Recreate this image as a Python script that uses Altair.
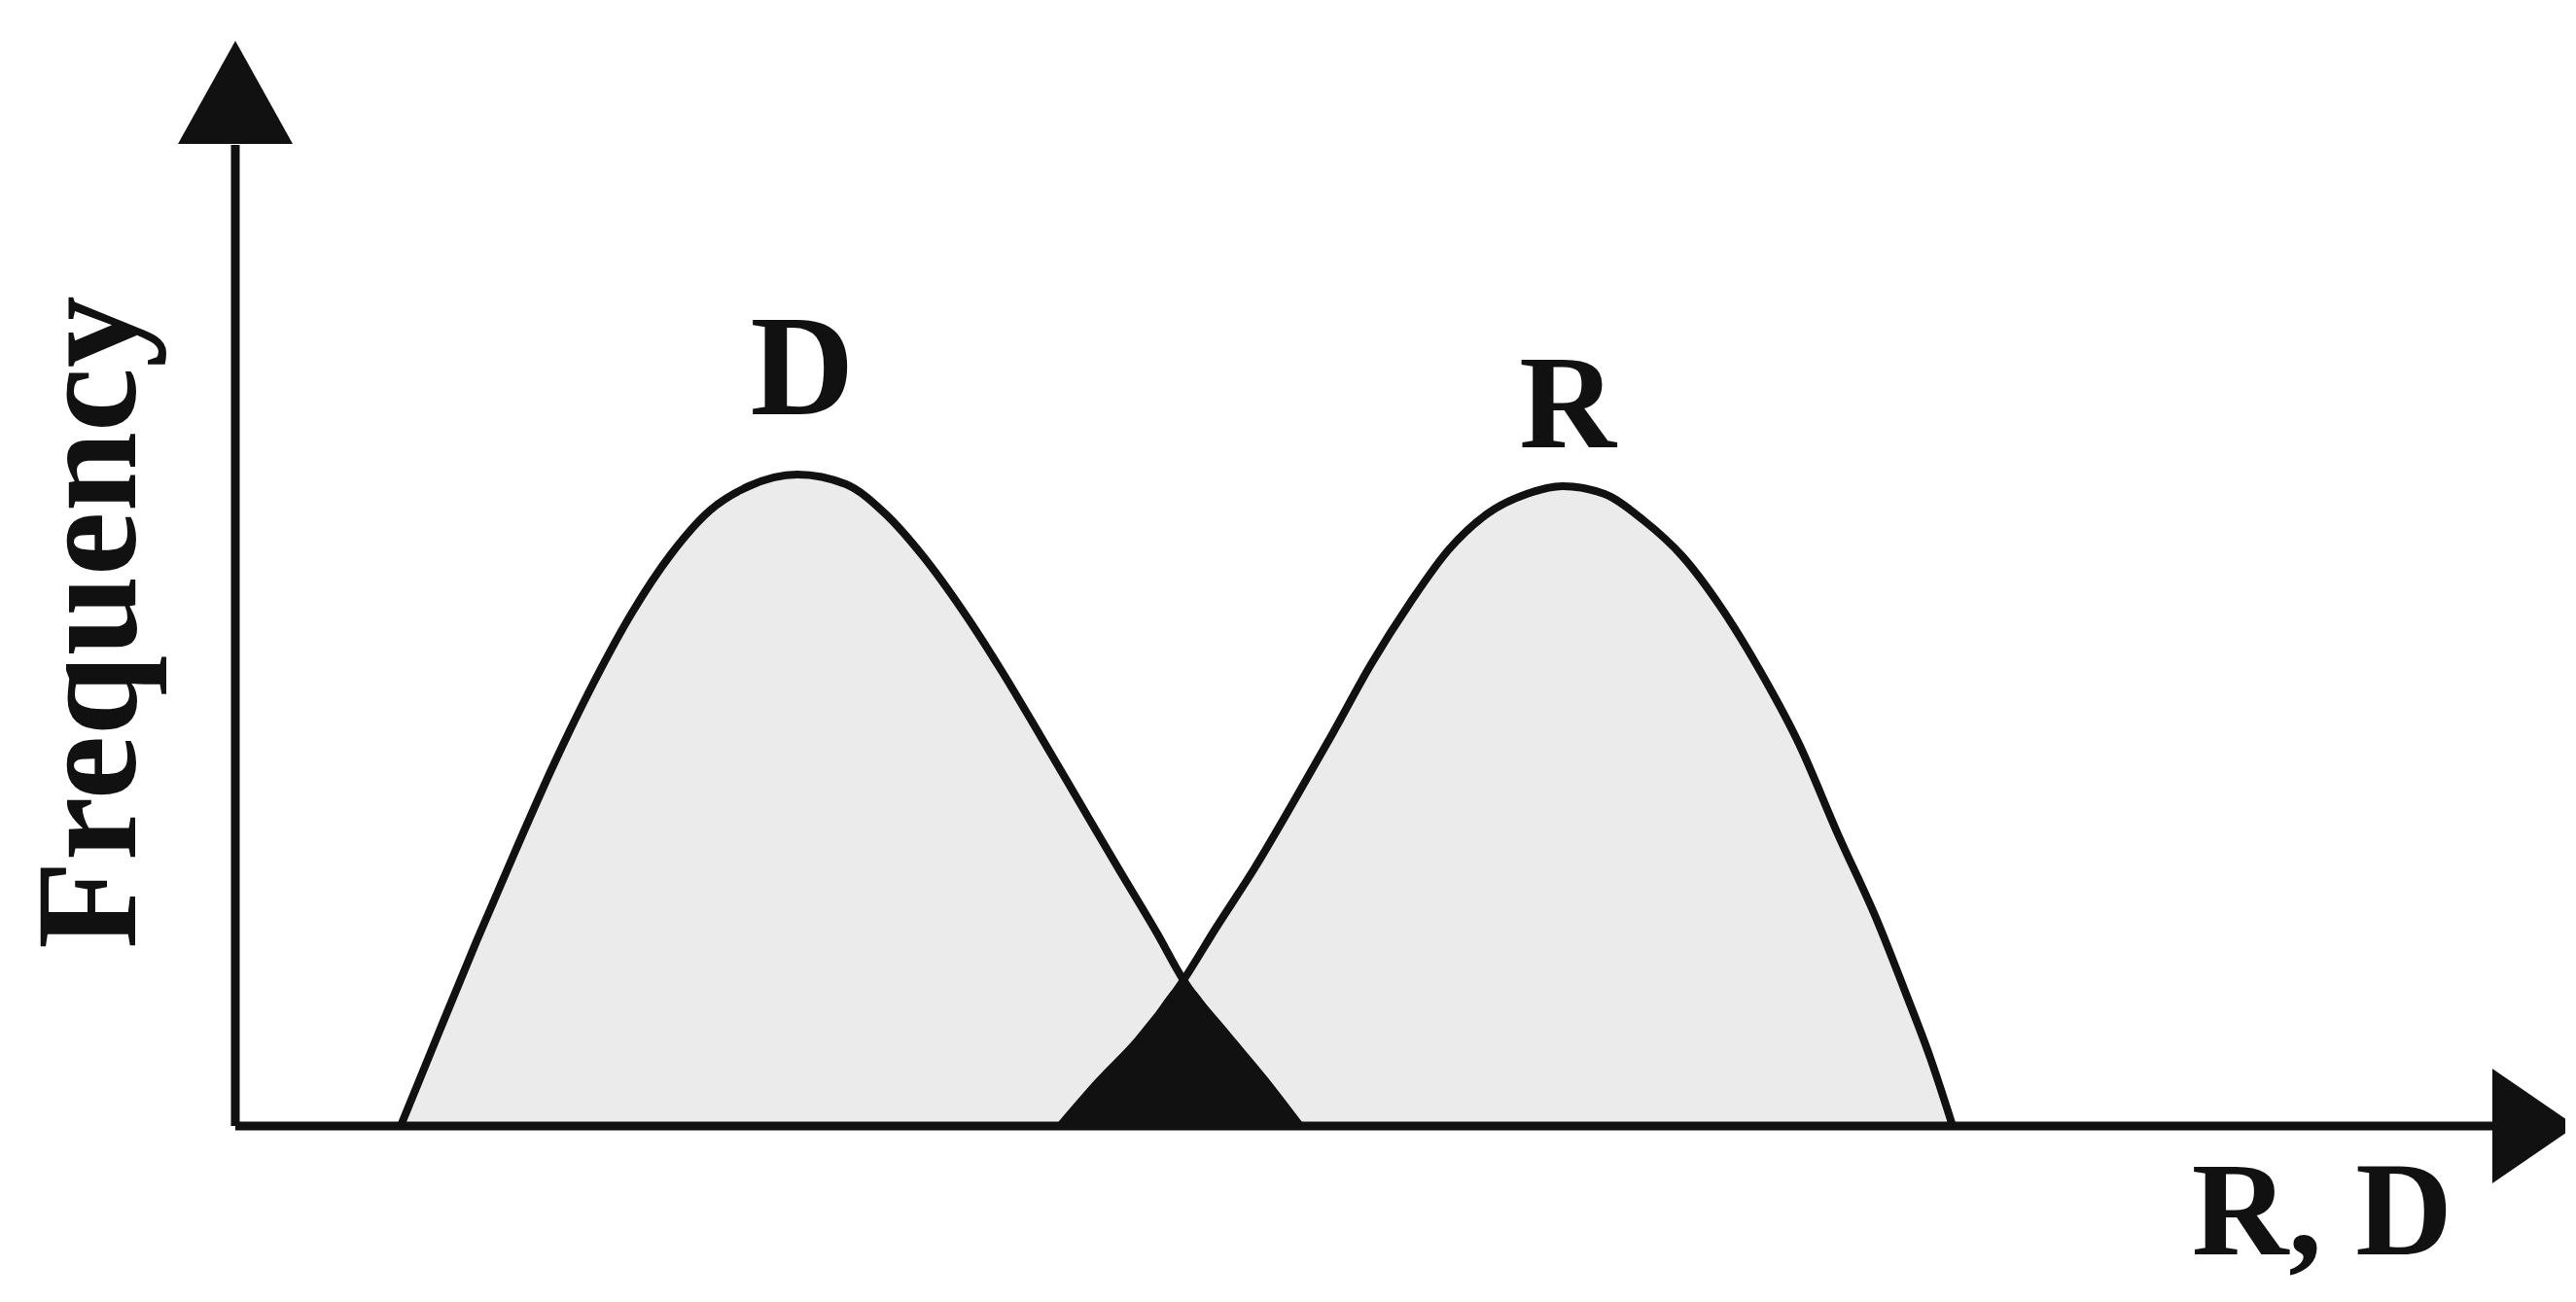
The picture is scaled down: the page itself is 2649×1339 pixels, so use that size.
import altair as alt
import pandas as pd

# ---- data (arbitrary units; origin at the axes corner) ----
d_x = [1.70, 2.08, 2.48, 2.88, 3.28, 3.68, 4.08, 4.48, 4.88, 5.28, 5.78, 6.28, 6.68,
       7.08, 7.48, 7.88, 8.28, 8.68, 9.08, 9.48, 9.75, 10.18, 10.58, 10.95]
d_y = [0.00, 0.93, 1.90, 2.83, 3.73, 4.55, 5.28, 5.88, 6.33, 6.58, 6.70, 6.60, 6.30,
       5.85, 5.30, 4.68, 4.01, 3.33, 2.65, 1.98, 1.50, 0.96, 0.48, 0.00]

r_x = [8.48, 8.88, 9.28, 9.75, 10.08, 10.48, 10.88, 11.28, 11.68, 12.08, 12.48, 12.88,
       13.28, 13.65, 14.08, 14.48, 14.88, 15.28, 15.68, 16.08, 16.48, 16.88, 17.18,
       17.43, 17.66]
r_y = [0.00, 0.46, 0.88, 1.50, 2.03, 2.65, 3.33, 4.03, 4.75, 5.38, 5.93, 6.30,
       6.50, 6.58, 6.50, 6.23, 5.86, 5.33, 4.68, 3.93, 3.00, 2.12, 1.36,
       0.70, 0.00]

overlap_x = [8.48, 8.88, 9.28, 9.75, 10.18, 10.58, 10.95]
overlap_y = [0.00, 0.46, 0.88, 1.46, 0.96, 0.48, 0.00]

curve_labels = ["D", "R"]
curve_label_x = [5.83, 13.70]
curve_label_y = [7.32, 6.98]
curve_label_size = [148, 138]

y_axis_title = "Frequency"
x_axis_title = "R, D"

x_axis_end = 23.21
y_axis_end = 10.09

# ---- frames ----
W, H = 2630, 1318
xs = alt.Scale(domain=[-2.34, 23.96], nice=False, zero=False)
ys = alt.Scale(domain=[-1.68, 11.50], nice=False, zero=False)

df_d = pd.DataFrame({"x": d_x, "y": d_y})
df_r = pd.DataFrame({"x": r_x, "y": r_y})
df_o = pd.DataFrame({"x": overlap_x, "y": overlap_y})
df_lab = pd.DataFrame({"t": curve_labels, "x": curve_label_x, "y": curve_label_y,
                       "s": curve_label_size})
df_axes = pd.DataFrame({"x": [0, 0], "y": [0, 0], "x2": [x_axis_end, 0], "y2": [0, y_axis_end]})
df_xarrow = pd.DataFrame({"x": [x_axis_end + 0.43], "y": [0]})
df_yarrow = pd.DataFrame({"x": [0], "y": [y_axis_end + 0.54]})
df_ytitle = pd.DataFrame({"t": [y_axis_title], "x": [-1.03], "y": [5.18]})
df_xtitle = pd.DataFrame({"t": [x_axis_title], "x": [22.80], "y": [-1.32]})

X = lambda: alt.X("x:Q", scale=xs, axis=None)
Y = lambda: alt.Y("y:Q", scale=ys, axis=None)

FILL = "#ebebeb"
INK = "#111111"
FONT = "Liberation Serif, Times New Roman, Tinos, Nimbus Roman, serif"

area_d = alt.Chart(df_d).mark_area(color=FILL, interpolate="monotone", opacity=1).encode(
    x=X(), y=Y(), y2=alt.datum(0))
area_r = alt.Chart(df_r).mark_area(color=FILL, interpolate="monotone", opacity=1).encode(
    x=X(), y=Y(), y2=alt.datum(0))
area_o = alt.Chart(df_o).mark_area(color=INK, interpolate="monotone", opacity=1).encode(
    x=X(), y=Y(), y2=alt.datum(0))

line_d = alt.Chart(df_d).mark_line(color=INK, strokeWidth=8, interpolate="monotone").encode(
    x=X(), y=Y(), order="x:Q")
line_r = alt.Chart(df_r).mark_line(color=INK, strokeWidth=8, interpolate="monotone").encode(
    x=X(), y=Y(), order="x:Q")

axes = alt.Chart(df_axes).mark_rule(color=INK, strokeWidth=9, strokeCap="butt").encode(
    x=X(), y=Y(), x2="x2:Q", y2="y2:Q")

xarrow = alt.Chart(df_xarrow).mark_point(
    shape="M-0.73,-1L0.73,0L-0.73,1Z", filled=True, size=13924, color=INK,
    opacity=1, strokeWidth=0).encode(x=X(), y=Y())
yarrow = alt.Chart(df_yarrow).mark_point(
    shape="M0,-0.9L1,0.9L-1,0.9Z", filled=True, size=13924, color=INK,
    opacity=1, strokeWidth=0).encode(x=X(), y=Y())

labels = alt.Chart(df_lab).mark_text(font=FONT, fontWeight="bold", color=INK,
                                     align="center", baseline="alphabetic").encode(
    x=X(), y=Y(), text="t:N", size=alt.Size("s:Q", scale=None, legend=None))

ytitle = alt.Chart(df_ytitle).mark_text(font=FONT, fontWeight="bold", fontSize=148,
                                        color=INK, angle=270, align="center",
                                        baseline="alphabetic").encode(x=X(), y=Y(), text="t:N")
xtitle = alt.Chart(df_xtitle).mark_text(font=FONT, fontWeight="bold", fontSize=138,
                                        color=INK, align="right",
                                        baseline="alphabetic").encode(x=X(), y=Y(), text="t:N")

chart = alt.layer(area_d, area_r, area_o, line_d, line_r, axes, xarrow, yarrow,
                  labels, ytitle, xtitle).properties(
    width=W, height=H, padding=0, autosize=alt.AutoSizeParams(type="none"),
    background="white").configure_view(stroke=None)

chart.save("out.html", embed_options={"renderer": "svg", "actions": False})
